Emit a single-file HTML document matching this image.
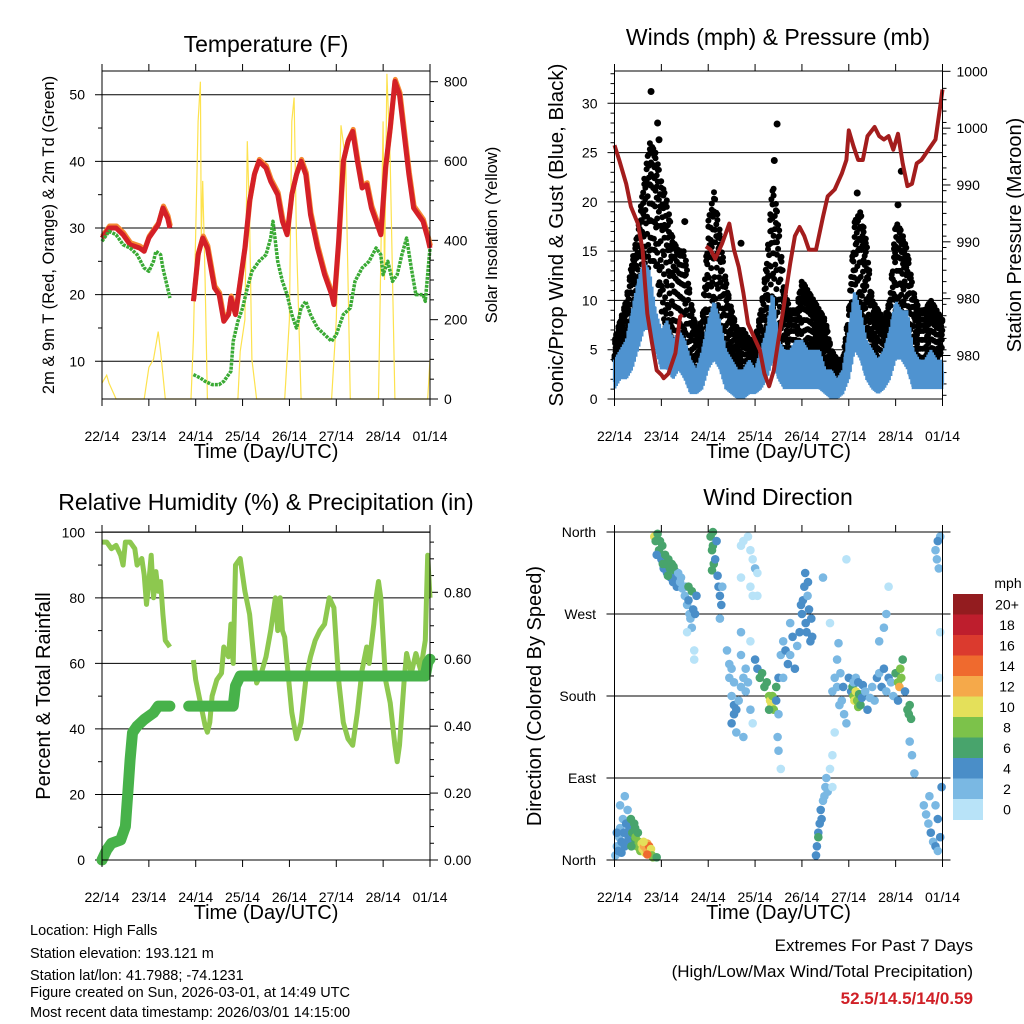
<!DOCTYPE html>
<html><head><meta charset="utf-8">
<style>
html,body{margin:0;padding:0;background:#fff;}
svg{display:block;font-family:"Liberation Sans",sans-serif;}
</style></head>
<body>
<svg id="fig" width="1024" height="1024" viewBox="0 0 1024 1024" xmlns="http://www.w3.org/2000/svg">
<g id="g-temp"></g>
<g id="g-wind"></g>
<g id="g-rh"></g>
<g id="g-dir"></g>
<g font-size="14.5" fill="#000">
<text x="30" y="935">Location: High Falls</text>
<text x="30" y="958">Station elevation: 193.121 m</text>
<text x="30" y="980">Station lat/lon: 41.7988; -74.1231</text>
<text x="30" y="997">Figure created on Sun, 2026-03-01, at 14:49 UTC</text>
<text x="30" y="1017">Most recent data timestamp: 2026/03/01 14:15:00</text>
</g>
<g text-anchor="end">
<text x="973" y="951" font-size="17">Extremes For Past 7 Days</text>
<text x="973" y="977" font-size="17">(High/Low/Max Wind/Total Precipitation)</text>
<text x="973" y="1004" font-size="17" font-weight="bold" fill="#d02027">52.5/14.5/14/0.59</text>
</g>
</svg>
<script>
// ---------- DATA ----------
const dayLabels = ["22/14","23/14","24/14","25/14","26/14","27/14","28/14","01/14"];
const tempT = [[0,28.5],[0.15,30],[0.3,30],[0.45,29],[0.6,27.5],[0.8,27],[0.9,26.5],[1.0,28.5],[1.1,29.5],[1.2,30.5],[1.3,33],[1.4,31.5],[1.45,30],null,[1.95,19],[2.05,26],[2.15,28.5],[2.25,27],[2.4,21],[2.5,20],[2.6,16],[2.7,17],[2.75,19.5],[2.85,17],[2.95,22],[3.05,27],[3.15,34],[3.25,38],[3.35,40],[3.5,39],[3.6,37],[3.75,35],[3.85,31],[3.95,29],[4.05,35],[4.15,38],[4.25,40],[4.35,38],[4.45,32],[4.6,27],[4.75,23],[4.9,20],[4.95,18.5],[5.05,28],[5.15,40],[5.25,43],[5.35,44.5],[5.45,40],[5.55,36],[5.65,36.5],[5.75,33],[5.85,31],[5.95,29],[6.05,39],[6.15,45],[6.25,52],[6.35,50],[6.45,44],[6.55,38],[6.65,33],[6.75,32],[6.85,31],[6.95,28.5],[7.0,27]];
const tempTd = [[0,28],[0.15,29.5],[0.3,29],[0.45,27.5],[0.6,27],[0.75,26],[0.9,24],[1.0,23.5],[1.1,25],[1.15,26.5],[1.25,26],[1.3,24],[1.4,21],[1.45,19.5],null,[1.95,8],[2.1,7.5],[2.2,7],[2.35,6.5],[2.5,6.5],[2.6,7],[2.75,8.5],[2.8,13],[2.9,16],[3.0,18],[3.1,21],[3.2,23.5],[3.35,25],[3.5,26],[3.6,28.5],[3.65,31],[3.75,25],[3.85,22],[3.95,20],[4.05,17],[4.15,15],[4.25,18],[4.35,19],[4.45,17],[4.6,15],[4.75,14],[4.9,13],[5.0,14],[5.15,17],[5.3,18],[5.4,22],[5.55,24],[5.7,25],[5.85,27],[5.95,26],[6.0,23],[6.1,25],[6.2,22],[6.3,23],[6.4,26],[6.5,28.5],[6.6,24],[6.7,20],[6.85,20],[6.9,19],[7.0,27]];
const solar = [[0,40],[0.05,50],[0.1,60],[0.15,40],[0.3,0],[0.9,0],[1.0,80],[1.1,100],[1.2,170],[1.25,120],[1.35,0],[1.9,0],[1.95,150],[2.05,700],[2.1,800],[2.12,400],[2.15,550],[2.2,300],[2.25,0],[2.9,0],[2.95,120],[3.05,200],[3.1,650],[3.15,450],[3.2,100],[3.3,0],[3.9,0],[4.0,200],[4.05,700],[4.1,760],[4.15,400],[4.25,0],[4.9,0],[5.0,200],[5.1,690],[5.2,600],[5.3,0],[5.9,0],[6.0,700],[6.03,300],[6.08,820],[6.15,600],[6.25,0],[6.95,0],[7.0,100]];
const windTimes = [0,0.125,0.25,0.375,0.5,0.625,0.75,0.875,1,1.125,1.25,1.375,1.5,1.625,1.75,1.875,2,2.125,2.25,2.375,2.5,2.625,2.75,2.875,3,3.125,3.25,3.375,3.5,3.625,3.75,3.875,4,4.125,4.25,4.375,4.5,4.625,4.75,4.875,5,5.125,5.25,5.375,5.5,5.625,5.75,5.875,6,6.125,6.25,6.375,6.5,6.625,6.75,6.875,7];
const gustMin = [4,4,5,7,9,11,14,14,9,7,6,6,5,3,2,3,6,8,7,5,4,3,2,3,3,4,6,8,6,4,3,3,4,5,5,4,3,2,2,2,4,8,9,7,4,3,3,4,8,9,7,4,3,3,4,4,5];
const gustMax = [6,8,10,14,17,22,26,25,22,20,16,15,15,10,7,8,18,21,17,12,9,7,7,6,6,9,14,22,18,11,9,9,12,11,10,9,8,5,4,4,9,18,19,16,10,9,8,10,18,17,15,11,9,9,10,9,8];
const gustOutliers = [[0.78,31.2],[0.92,28],[0.95,26.3],[2.7,15.8],[3.47,27.9],[3.41,24.2],[1.5,18],[5.18,20.9],[6.12,23.1],[6.05,19.7]];
const windMin = [1,2,2,3,5,7,7,5,3,3,2,3,2,0.5,0.5,1,3,4,3,1,0.5,0,0,0.5,0.5,1,2,4,2,1,1,1,1,1,1,1,0.5,0,0,0.5,2,5,4,2,1,0.5,1,2,4,4,3,1,1,1,1,1,1];
const windMax = [4,5,6,9,12,14,13,9,7,8,6,7,6,4,3,5,8,10,8,5,4,3,3,4,3,5,7,11,6,5,5,6,6,5,5,5,3,3,2,3,7,11,9,6,5,4,5,7,10,9,9,5,4,4,5,4,4];
const pressure = [[0,998.5],[0.1,997.2],[0.25,995.1],[0.35,993.1],[0.5,991.6],[0.6,989.3],[0.65,986.3],[0.7,983.7],[0.8,981.1],[0.9,978.7],[1.0,978.3],[1.05,978],[1.15,978.4],[1.3,980.2],[1.4,983.4],[1.45,983.6],null,[1.95,989.6],[2.05,989.3],[2.15,988.5],[2.3,989.9],[2.45,991.6],[2.55,989.3],[2.65,987.8],[2.75,985.5],[2.85,982.8],[3.0,981.4],[3.1,980.5],[3.2,978.4],[3.3,977.3],[3.4,978.7],[3.5,981.4],[3.6,984.0],[3.75,988.1],[3.85,990.5],[3.95,991.3],[4.05,990.5],[4.15,989.3],[4.3,989.3],[4.45,992.2],[4.55,994],[4.7,994.6],[4.85,996],[4.95,997.2],[5.0,999.8],[5.1,998.4],[5.2,997.2],[5.3,997.2],[5.4,999.3],[5.55,1000.1],[5.65,999.3],[5.75,999],[5.85,999.3],[5.95,998.1],[6.05,999.5],[6.15,996.9],[6.25,994.9],[6.35,995.1],[6.45,996.9],[6.55,997.2],[6.7,998.1],[6.85,999],[6.95,1001.9],[7.0,1003.4]];
const pressTicks = [1005,1000,995,990,985,980];
const pressLabels = ["1000","1000","990","990","980","980"];
const rh = [[0,97],[0.1,97],[0.2,95],[0.3,96],[0.4,93],[0.45,90],[0.5,97],[0.6,97],[0.7,95],[0.75,90],[0.85,92],[0.9,87],[0.95,78],[1.0,85],[1.05,93],[1.1,80],[1.15,88],[1.2,82],[1.25,85],[1.3,75],[1.35,67],[1.4,66],[1.45,65],null,[1.95,61],[2.0,55],[2.1,48],[2.2,41],[2.25,39],[2.3,42],[2.35,50],[2.45,55],[2.55,57],[2.6,65],[2.7,62],[2.75,72],[2.8,60],[2.85,90],[2.95,92],[3.05,82],[3.15,75],[3.25,60],[3.3,54],[3.4,57],[3.5,62],[3.6,70],[3.7,80],[3.75,70],[3.8,80],[3.85,70],[3.9,68],[3.95,60],[4.05,45],[4.15,37],[4.25,42],[4.35,55],[4.45,62],[4.55,67],[4.65,70],[4.75,72],[4.85,80],[4.95,77],[5.05,55],[5.15,42],[5.25,37],[5.35,35],[5.45,45],[5.55,58],[5.65,65],[5.7,60],[5.8,72],[5.85,80],[5.9,85],[5.95,80],[6.05,55],[6.15,48],[6.25,35],[6.3,30],[6.35,35],[6.45,55],[6.5,63],[6.55,60],[6.6,57],[6.7,63],[6.8,58],[6.9,67],[6.95,93],[7.0,80]];
const precip = [[0,0],[0.1,0.03],[0.2,0.05],[0.4,0.06],[0.5,0.1],[0.55,0.2],[0.6,0.3],[0.65,0.38],[0.75,0.40],[0.9,0.42],[1.0,0.43],[1.1,0.44],[1.2,0.46],[1.3,0.46],[1.45,0.46],null,[1.85,0.46],[2.8,0.46],[2.85,0.52],[2.95,0.55],[6.9,0.55],[6.95,0.59],[7.0,0.6]];
const speedBins = ["0","2","4","6","8","10","12","14","16","18","20+"];
const speedColors = ["#b8e3f8","#7ab8e3","#4a8ec8","#48a46c","#7cc24a","#e4e05a","#f5a94a","#ef6a2e","#db3a2e","#be1e2d","#931c1f"];
const windObs = [[0.02,5,3],[0.05,15,3],[0.08,10,4],[0.1,25,3],[0.12,35,2],[0.15,20,4],[0.18,45,2],[0.2,30,4],[0.22,15,4],[0.25,40,4],[0.28,55,2],[0.3,25,4],[0.32,35,5],[0.35,45,6],[0.38,30,6],[0.4,20,7],[0.42,40,6],[0.45,25,8],[0.48,15,8],[0.5,30,7],[0.52,20,9],[0.55,10,8],[0.58,18,10],[0.6,12,11],[0.63,15,12],[0.65,8,11],[0.68,12,13],[0.7,18,12],[0.72,10,12],[0.74,15,14],[0.76,8,12],[0.78,12,10],[0.8,5,9],[0.82,3,8],[0.9,3,6],[0.22,70,2],[0.12,60,2],[0.05,30,4],[0.15,8,4],[0.27,20,4],[0.36,15,6],[0.44,35,7],[0.62,20,10],[0.7,6,14],
[0.85,355,10],[0.88,350,6],[0.92,358,7],[0.95,340,6],[0.97,350,7],[1.0,330,4],[1.02,345,6],[1.05,320,4],[1.08,335,7],[1.1,325,6],[1.12,315,4],[1.15,330,7],[1.18,320,6],[1.2,310,5],[1.22,325,7],[1.25,305,4],[1.28,318,6],[1.3,310,4],[1.33,300,4],[1.36,315,3],[1.4,305,2],[1.45,298,3],[1.5,290,2],[1.52,300,3],[1.55,280,3],[1.58,285,4],[1.6,270,3],[1.62,265,2],[1.65,255,3],[1.68,275,4],[1.55,250,1],[1.7,230,1],[1.7,220,1],[1.58,300,6],[1.65,295,6],[1.72,270,4],[1.75,290,4],[0.9,335,4],[1.03,325,7],[1.14,312,7],[1.26,322,6],[1.42,310,3],
[2.05,355,6],[2.08,340,7],[2.1,345,6],[2.12,325,6],[2.15,330,4],[2.08,318,6],[2.2,312,4],[2.22,300,4],[2.25,290,4],[2.28,280,4],[2.25,265,3],[2.3,300,3],[2.1,360,6],[2.18,350,4],
[2.7,345,1],[2.75,350,1],[2.85,355,1],[2.9,340,1],[2.95,330,1],[3.0,320,2],[2.9,300,1],[2.7,310,1],[2.7,250,2],[2.9,240,1],[3.05,315,1],[3.05,290,1],[2.95,290,1],
[2.4,230,3],[2.45,215,2],[2.45,200,3],[2.5,210,2],[2.55,195,3],[2.5,180,2],[2.55,170,4],[2.55,160,4],[2.5,150,4],[2.6,165,4],[2.65,175,3],[2.7,190,2],[2.75,200,3],[2.8,185,2],[2.85,195,3],[2.6,140,3],[2.75,135,2],[2.8,210,2],[2.7,225,2],[2.9,165,2],[2.95,150,1],
[3.0,220,4],[3.05,210,4],[3.1,200,6],[3.15,205,6],[3.2,190,7],[3.25,195,6],[3.3,180,9],[3.32,175,10],[3.35,170,10],[3.37,180,9],[3.4,165,8],[3.3,165,6],[3.45,175,4],[3.5,160,3],[3.48,135,2],[3.5,120,2],[3.55,100,1],[3.45,190,6],[3.5,200,4],
[3.55,225,3],[3.6,240,3],[3.65,230,4],[3.7,215,4],[3.75,225,3],[3.8,245,4],[3.85,210,4],[3.9,235,3],[3.95,250,4],[4.0,270,4],[4.02,285,4],[4.05,300,4],[4.08,260,4],[4.1,250,4],[4.12,290,3],[4.15,275,4],[4.18,240,4],[4.2,265,4],[4.22,245,4],[3.98,280,4],[4.07,315,4],[4.13,305,4],[3.6,200,3],[3.75,260,2],
[4.3,5,4],[4.32,15,4],[4.35,30,4],[4.38,40,4],[4.4,55,4],[4.42,45,5],[4.45,65,3],[4.48,70,3],[4.5,80,2],[4.52,90,2],[4.55,75,2],[4.35,25,6],
[4.65,185,2],[4.7,200,2],[4.75,190,3],[4.8,170,2],[4.85,175,2],[4.9,160,2],[4.95,150,3],[4.7,140,1],[4.65,115,1],[4.6,100,1],[4.65,80,1],[4.75,220,2],[4.82,205,3],[4.78,238,2],[4.88,190,4],[4.6,260,1],[4.45,310,3],[4.95,330,1],
[5.0,200,4],[5.05,185,5],[5.08,190,6],[5.1,180,8],[5.12,175,10],[5.15,185,11],[5.18,175,9],[5.2,168,8],[5.22,182,7],[5.25,170,6],[5.28,178,4],[5.3,192,4],[5.35,185,3],[5.4,165,4],[5.45,178,2],[5.5,190,3],[5.55,175,2],[5.1,195,2],[5.15,200,3],[5.2,195,5],
[5.6,200,4],[5.65,205,3],[5.7,190,4],[5.75,210,4],[5.8,185,3],[5.85,200,4],[5.9,195,3],[5.95,180,2],[6.0,205,7],[6.05,195,8],[6.08,190,12],[6.1,210,9],[6.12,200,8],[6.15,220,6],[6.05,175,5],[6.2,185,4],[6.25,165,6],[6.28,160,7],[6.3,170,6],[6.33,155,6],[6.3,130,2],[6.35,115,2],[6.4,95,2],[5.65,240,3],[5.75,255,2],[5.8,270,2],[5.85,300,1],
[6.6,60,2],[6.65,50,3],[6.7,40,2],[6.75,30,4],[6.8,20,3],[6.85,15,4],[6.9,10,3],[6.95,25,4],[6.72,70,2],[6.85,60,2],[6.9,45,4],[6.98,80,4],[6.95,355,3],[6.9,350,4],[6.85,340,3],[6.92,320,2],[6.88,330,3],[6.95,250,1],[6.93,200,1]];
const dirTicks = [0,90,180,270,360];
const dirLabels = ["North","East","South","West","North"];

// ---------- HELPERS ----------
const NS="http://www.w3.org/2000/svg";
function mk(tag,attrs,parent,txt){const e=document.createElementNS(NS,tag);for(const k in attrs)e.setAttribute(k,attrs[k]);if(txt!==undefined)e.textContent=txt;parent.appendChild(e);return e;}
function lin(d0,d1,r0,r1){return v=>r0+(v-d0)*(r1-r0)/(d1-d0);}
function pathOf(pts,fx,fy){let d="",pen=false;for(const p of pts){if(!p){pen=false;continue;}d+=(pen?"L":"M")+fx(p[0]).toFixed(1)+","+fy(p[1]).toFixed(1);pen=true;}return d;}
function interp(ts,vs,t){for(let i=1;i<ts.length;i++){if(t<=ts[i]){const f=(t-ts[i-1])/(ts[i]-ts[i-1]);return vs[i-1]+f*(vs[i]-vs[i-1]);}}return vs[vs.length-1];}

function frame(g,L,R,T,B,x){
  const b=mk('rect',{x:L,y:T,width:R-L,height:B-T,fill:'none',stroke:'#000','stroke-width':1},g);
  
  
  for(let i=0;i<dayLabels.length;i++){
    const px=x(i);
    const tk=mk('line',{x1:px,y1:B,x2:px,y2:B+7,stroke:'#000'},g);
    
    
    mk('line',{x1:px,y1:T,x2:px,y2:T-7,stroke:'#000'},g);
    const lb=mk('text',{x:px,y:B+42,'font-size':14,'text-anchor':'middle'},g,dayLabels[i]);
    
    
  }
  const xt=mk('text',{x:(L+R)/2,y:B+59,'font-size':20,'text-anchor':'middle'},g,"Time (Day/UTC)");
  
  
}
function leftAxis(g,L,R,ticks,y,fmt,minor){
  for(const v of minor){mk('line',{x1:L,y1:y(v),x2:L-4,y2:y(v),stroke:'#000'},g);}
  for(const v of ticks){
    const gl=mk('line',{x1:L-7,y1:y(v),x2:R,y2:y(v),stroke:'#000'},g);
    
    
    const lb=mk('text',{x:L-17,y:y(v)+5,'font-size':14,'text-anchor':'end'},g,fmt(v));
    
    
  }
}
function rightAxis(g,R,ticks,labels,y,minor){
  for(const v of minor){mk('line',{x1:R,y1:y(v),x2:R+4,y2:y(v),stroke:'#000'},g);}
  ticks.forEach((v,i)=>{
    mk('line',{x1:R,y1:y(v),x2:R+8,y2:y(v),stroke:'#000'},g);
    const lb=mk('text',{x:R+14,y:y(v)+5,'font-size':14},g,labels[i]);
    
    
  });
}
function vtitle(g,x,y,txt,size,name){const t=mk('text',{x:x,y:y,'font-size':size,'text-anchor':'middle',transform:`rotate(-90 ${x} ${y})`},g,txt);return t;}
function title(g,x,y,txt,name){const t=mk('text',{x:x,y:y,'font-size':23,'text-anchor':'middle'},g,txt);}
function range(a,b,s){const r=[];for(let v=a;v<=b+1e-9;v+=s)r.push(+v.toFixed(4));return r;}

// ---------- TEMPERATURE ----------
(function(){
  const g=document.getElementById('g-temp');
  const L=102,R=430,T=71,B=399;
  const x=lin(0,7,L,R), y=lin(10,50,361.3,94.7), ys=lin(0,800,399,81.7);
  title(g,266,52,"Temperature (F)","temperature-title");
  leftAxis(g,L,R,[10,20,30,40,50],y,v=>v,[15,25,35,45]);
  rightAxis(g,R,[0,200,400,600,800],["0","200","400","600","800"],ys,range(50,750,50).filter(v=>v%200));
  const s=mk('path',{d:pathOf(solar,x,ys),fill:'none',stroke:'#fde24e','stroke-width':1.2},g);
  
  
  const o=mk('path',{d:pathOf(tempT.map(p=>p&&[p[0]+0.01,p[1]+0.3]),x,y),fill:'none',stroke:'#f58a33','stroke-width':5,'stroke-linejoin':'round'},g);
  
  
  const r=mk('path',{d:pathOf(tempT,x,y),fill:'none',stroke:'#d42027','stroke-width':5,'stroke-linejoin':'round'},g);
  
  
  const d=mk('path',{d:pathOf(tempTd,x,y),fill:'none',stroke:'#3aaa35','stroke-width':3.5,'stroke-dasharray':'3 1','stroke-linejoin':'round'},g);
  
  
  frame(g,L,R,T,B,x);
  vtitle(g,54,235,"2m & 9m T (Red, Orange) & 2m Td (Green)",16.5,'y-axis-title');
  vtitle(g,497,235,"Solar Insolation (Yellow)",16.5,'right-axis-title');
})();

// ---------- WIND & PRESSURE ----------
(function(){
  const g=document.getElementById('g-wind');
  const L=614.5,R=942.5,T=71,B=399;
  const x=lin(0,7,L,R), y=lin(0,30,399,103.3), yp=lin(1005,980,71.3,355.5);
  title(g,778,45,"Winds (mph) & Pressure (mb)","winds-title");
  leftAxis(g,L,R,[0,5,10,15,20,25,30],y,v=>v,range(1,33,1).filter(v=>v%5));
  rightAxis(g,R,pressTicks,pressLabels,yp,range(976.5,1004,1).filter(v=>true));
  const fr=[0,1,0.5,0.85,0.2,0.65,0.35,0.95,0.1,0.75];
  let k=0;
  for(let t=0;t<=7.0001;t+=0.012){
    const lo=interp(windTimes,gustMin,t), hi=interp(windTimes,gustMax,t);
    for(let j=0;j<3;j++){
      const f=fr[(k*3+j)%fr.length]; k++;
      const c=mk('circle',{cx:x(t).toFixed(1),cy:y(lo+(hi-lo)*f).toFixed(1),r:3,fill:'#000'},g);
      
      
    }
  }
  gustOutliers.forEach(p=>{
    const c=mk('circle',{cx:x(p[0]),cy:y(p[1]),r:3.5,fill:'#000'},g);
    
    
  });
  const wf=[1,0.7,0.9,0.6,1,0.8,0.65,0.95];
  let wd="";let m=0;
  for(let t=0;t<=7.0001;t+=0.008){
    const lo=interp(windTimes,windMin,t), hi=interp(windTimes,windMax,t);
    const f=wf[m%wf.length], f2=wf[(m+3)%wf.length]; m++;
    const top=lo+(hi-lo)*f, bot=lo+(hi-lo)*(1-f2)*0.6;
    wd+="M"+x(t).toFixed(1)+","+y(top).toFixed(1)+"V"+y(bot).toFixed(1);
  }
  const wb=mk('path',{d:wd,fill:'none',stroke:'#4f93d0','stroke-width':3.2},g);
  
  
  const p=mk('path',{d:pathOf(pressure,x,yp),fill:'none',stroke:'#a31d1d','stroke-width':4,'stroke-linejoin':'round'},g);
  
  
  frame(g,L,R,T,B,x);
  vtitle(g,563,235,"Sonic/Prop Wind & Gust (Blue, Black)",20.5,'y-axis-title');
  vtitle(g,1021,235,"Station Pressure (Maroon)",20,'right-axis-title');
})();

// ---------- RH & PRECIP ----------
(function(){
  const g=document.getElementById('g-rh');
  const L=102,R=430,T=532,B=860;
  const x=lin(0,7,L,R), y=lin(0,100,860,532.3), yi=lin(0,0.8,860,592.3);
  title(g,266,510,"Relative Humidity (%) & Precipitation (in)","humidity-title");
  leftAxis(g,L,R,[0,20,40,60,80,100],y,v=>v,[10,30,50,70,90]);
  rightAxis(g,R,[0,0.2,0.4,0.6,0.8],["0.00","0.20","0.40","0.60","0.80"],yi,range(0.05,0.95,0.05).filter(v=>Math.abs(v*5-Math.round(v*5))>1e-6));
  const h=mk('path',{d:pathOf(rh,x,y),fill:'none',stroke:'#8dc84f','stroke-width':5,'stroke-linejoin':'round'},g);
  
  
  const pr=mk('path',{d:pathOf(precip,x,yi),fill:'none',stroke:'#47b24a','stroke-width':11,'stroke-linejoin':'round','stroke-linecap':'round'},g);
  
  
  frame(g,L,R,T,B,x);
  vtitle(g,50,696,"Percent & Total Rainfall",20,'y-axis-title');
})();

// ---------- WIND DIRECTION ----------
(function(){
  const g=document.getElementById('g-dir');
  const L=614.5,R=942.5,T=532,B=860;
  const x=lin(0,7,L,R), y=lin(0,360,860,532);
  title(g,778,505,"Wind Direction","direction-title");
  dirTicks.forEach((v,i)=>{
    const gl=mk('line',{x1:L-8,y1:y(v),x2:R+8,y2:y(v),stroke:'#000'},g);
    
    
    const lb=mk('text',{x:596,y:y(v)+5,'font-size':14,'text-anchor':'end'},g,dirLabels[i]);
    
    
  });
  windObs.forEach(o=>{
    const bi=Math.min(10,Math.floor(o[2]/2));
    const c=mk('circle',{cx:x(o[0]).toFixed(1),cy:y(o[1]).toFixed(1),r:4.3,fill:speedColors[bi]},g);
    
    
  });
  frame(g,L,R,T,B,x);
  vtitle(g,541,696,"Direction (Colored By Speed)",20,'y-axis-title');
  const cb=mk('g',{},g);
  
  
  const top=594,h=20.5;
  const u=mk('text',{x:1008,y:588,'font-size':14,'text-anchor':'middle'},cb,"mph");
  
  
  for(let i=10;i>=0;i--){
    const yy=top+(10-i)*h;
    const r=mk('rect',{x:953,y:yy,width:30,height:h+0.5,fill:speedColors[i]},cb);
    
    
    const t=mk('text',{x:1007,y:yy+h/2+5,'font-size':14,'text-anchor':'middle'},cb,speedBins[i]);
    
    
  }
})();
</script>
</body></html>
